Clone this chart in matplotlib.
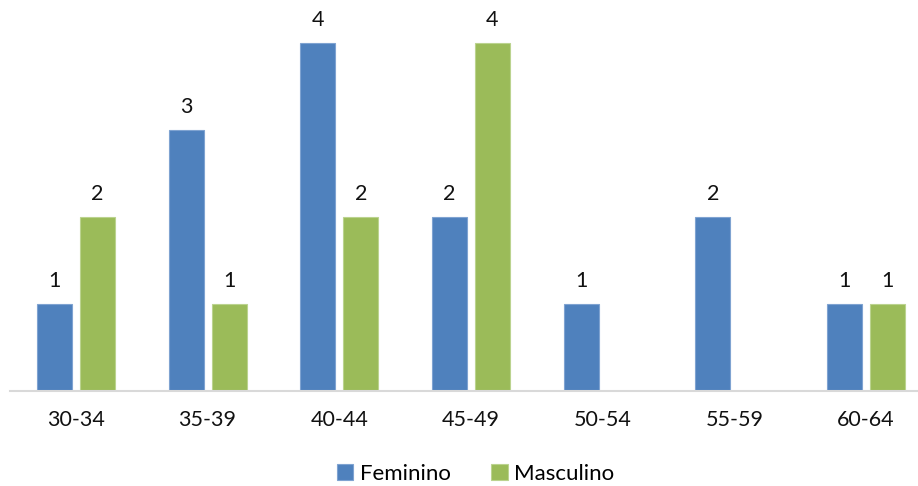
import matplotlib.pyplot as plt
import numpy as np

plt.rcParams['font.family'] = ['Lato', 'DejaVu Sans']

faixas = ['30-34', '35-39', '40-44', '45-49', '50-54', '55-59', '60-64']
feminino = [1, 3, 4, 2, 1, 2, 1]
masculino = [2, 1, 2, 4, 0, 0, 1]

AZUL = '#4F81BD'
VERDE = '#9BBB59'

fig = plt.figure(figsize=(9.18, 4.86), dpi=100)
# axes runs slightly past the right edge, as in the original sheet
ax = fig.add_axes([10 / 918, 1 - 391 / 486, 922 / 918, 391 / 486])

x = np.arange(len(faixas))
w = 0.266
off = 0.163
b1 = ax.bar(x - off, feminino, w, color=AZUL, edgecolor='#7FA3D1', linewidth=0.8, label='Feminino')
b2 = ax.bar(x + off, masculino, w, color=VERDE, edgecolor='#BBD38F', linewidth=0.8, label='Masculino')

for bars, vals in ((b1, feminino), (b2, masculino)):
    for bar, v in zip(bars, vals):
        if v > 0:
            ax.text(bar.get_x() + bar.get_width() / 2, v + 0.15, str(v),
                    ha='center', va='bottom', fontsize=15.5, color='#111111')

ax.set_xlim(-0.5, 6.5)
ax.set_ylim(0, 4.49)
ax.set_yticks([])
ax.set_xticks(x)
ax.set_xticklabels(faixas, fontsize=15.5, color='#111111')
ax.tick_params(axis='x', length=0, pad=14)
for s in ('top', 'right', 'left'):
    ax.spines[s].set_visible(False)
ax.spines['bottom'].set_color('#D9D9D9')
ax.spines['bottom'].set_linewidth(1.5)

fig.legend(handles=[b1, b2], loc='center', bbox_to_anchor=(0.518, 1 - 474 / 486),
           ncol=2, frameon=False, fontsize=16, handlelength=0.75, handleheight=0.75,
           handletextpad=0.3, columnspacing=1.8)

fig.savefig('out.png', dpi=100)
